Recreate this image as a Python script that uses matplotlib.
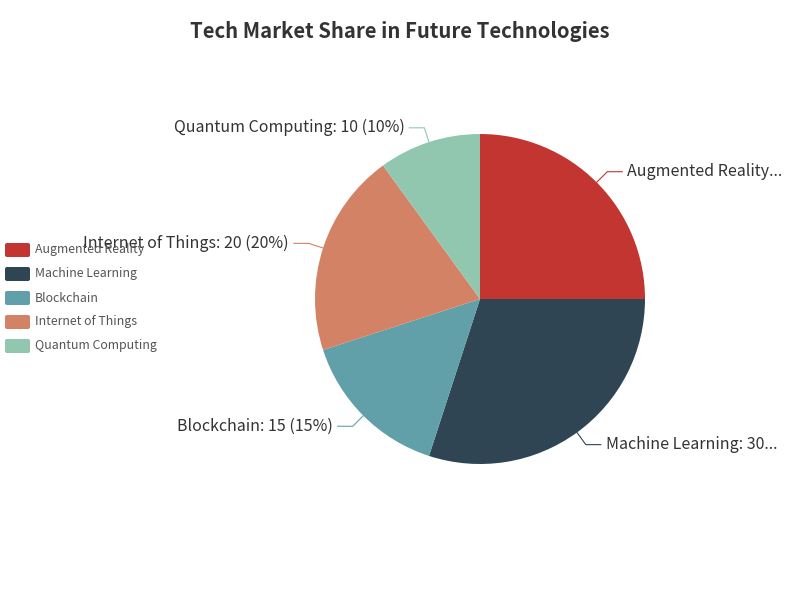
import numpy as np
import matplotlib
matplotlib.use("Agg")
import matplotlib.pyplot as plt
from matplotlib.patches import FancyBboxPatch

plt.rcParams['font.family'] = ['Noto Sans CJK SC', 'DejaVu Sans']

title = "Tech Market Share in Future Technologies"
categories = ["Augmented Reality", "Machine Learning", "Blockchain", "Internet of Things", "Quantum Computing"]
values = [25, 30, 15, 20, 10]
colors = ["#c23531", "#2f4554", "#61a0a8", "#d48265", "#91c7ae"]
# labels as displayed (some truncated in the reference)
label_texts = ["Augmented Reality...", "Machine Learning: 30...", "Blockchain: 15 (15%)",
               "Internet of Things: 20 (20%)", "Quantum Computing: 10 (10%)"]

W, H = 800, 600
fig = plt.figure(figsize=(8, 6), dpi=100)
ax = fig.add_axes([0, 0, 1, 1])

cx, cy, r = 480, H - 299, 165
wedges, _ = ax.pie(values, colors=colors, startangle=90, counterclock=False,
                   center=(cx, cy), radius=r, frame=True,
                   wedgeprops=dict(linewidth=0))
ax.set_xlim(0, W)
ax.set_ylim(0, H)
ax.set_aspect('equal')
ax.axis('off')

for w, txt, col in zip(wedges, label_texts, colors):
    ang = np.deg2rad((w.theta1 + w.theta2) / 2)
    x0, y0 = cx + r * np.cos(ang), cy + r * np.sin(ang)
    x1, y1 = cx + (r + 15) * np.cos(ang), cy + (r + 15) * np.sin(ang)
    side = 1 if np.cos(ang) >= 0 else -1
    x2 = x1 + side * 15
    ax.plot([x0, x1, x2], [y0, y1, y1], color=col, lw=0.8)
    ax.text(x2 + side * 5, y1, txt, ha='left' if side > 0 else 'right', va='center',
            fontsize=11.5, color='#333333')

# Title
ax.text(400, H - 32, title, ha='center', va='center', fontsize=14.6, fontweight='bold', color='#333333')

# Legend
for i, (cat, col) in enumerate(zip(categories, colors)):
    y = H - (250 + 24 * i)
    ax.add_patch(FancyBboxPatch((5 + 2, y - 7 + 2), 25 - 4, 14 - 4,
                                boxstyle="round,pad=2", fc=col, ec='none'))
    ax.text(35, y, cat, ha='left', va='center', fontsize=8.9, color='#555555')

fig.savefig("out.png", dpi=100)
